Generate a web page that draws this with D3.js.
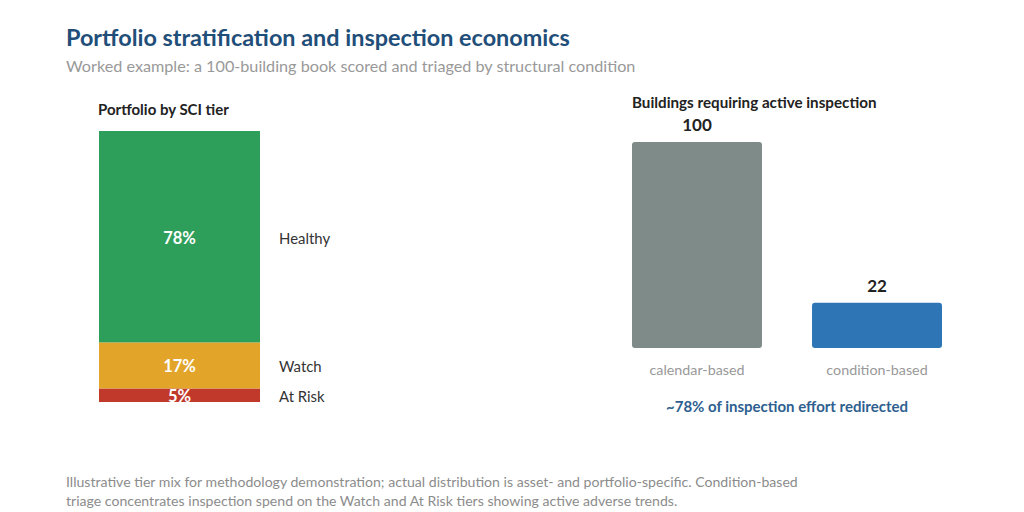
<!DOCTYPE html>
<html>
<head>
<meta charset="utf-8">
<script src="https://cdn.jsdelivr.net/npm/d3@7"></script>
<style>
  body { margin: 0; background: #fff; }
  svg { font-family: Lato, "Open Sans", sans-serif; }
</style>
</head>
<body>
<div id="container"></div>
<script>
//Data: tier mix (bottom to top) and inspection counts
var tiers = ["At Risk", "Watch", "Healthy"],
    tierShares = [5, 17, 78],
    tierColors = ["#c0392b", "#e2a52a", "#2e9e5b"];

var approaches = ["calendar-based", "condition-based"],
    buildings = [100, 22],
    approachColors = ["#7f8b89", "#2e75b6"];

var width = 1024,
    height = 512;

var svg = d3.select("#container").append("svg")
    .attr("width", width)
    .attr("height", height);

//Titles
svg.append("text")
    .attr("x", 66).attr("y", 46)
    .attr("font-size", 23.4).attr("font-weight", 700)
    .attr("fill", "#1f4e79")
    .text("Portfolio stratification and inspection economics");

svg.append("text")
    .attr("x", 66).attr("y", 72)
    .attr("font-size", 16.2)
    .attr("fill", "#999")
    .text("Worked example: a 100-building book scored and triaged by structural condition");

//Left panel: stacked tier bar
var yLeft = d3.scaleLinear().domain([0, 100]).range([402, 131]);
var barX = 99, barW = 161;

svg.append("text")
    .attr("x", 98).attr("y", 115)
    .attr("font-size", 15).attr("font-weight", 700)
    .attr("fill", "#222")
    .text("Portfolio by SCI tier");

var cum = 0;
var segs = tiers.map(function (t, i) {
    var s = { tier: t, value: tierShares[i], color: tierColors[i], y0: cum, y1: cum + tierShares[i] };
    cum += tierShares[i];
    return s;
});

var seg = svg.append("g").selectAll("g")
    .data(segs)
    .enter().append("g");

seg.append("rect")
    .attr("x", barX)
    .attr("width", barW)
    .attr("y", function (d) { return yLeft(d.y1); })
    .attr("height", function (d) { return yLeft(d.y0) - yLeft(d.y1); })
    .attr("fill", function (d) { return d.color; });

seg.append("text")
    .attr("x", barX + barW / 2)
    .attr("y", function (d) { return (yLeft(d.y0) + yLeft(d.y1)) / 2 + 1; })
    .attr("dy", "0.36em")
    .attr("text-anchor", "middle")
    .attr("font-size", 16.5).attr("font-weight", 700)
    .attr("fill", "#fff")
    .text(function (d) { return d.value + "%"; });

seg.append("text")
    .attr("x", 279)
    .attr("y", function (d) { return (yLeft(d.y0) + yLeft(d.y1)) / 2 + 1.5; })
    .attr("dy", "0.36em")
    .attr("font-size", 14.9)
    .attr("fill", "#333")
    .text(function (d) { return d.tier; });

//Right panel: inspection counts
var xRight = d3.scaleBand().domain(approaches).range([632, 942]).paddingInner(0.278).paddingOuter(0);
var yRight = d3.scaleLinear().domain([0, 100]).range([348, 142]);

svg.append("text")
    .attr("x", 632).attr("y", 108)
    .attr("font-size", 15.2).attr("font-weight", 700)
    .attr("fill", "#222")
    .text("Buildings requiring active inspection");

var bars = svg.append("g").selectAll("g")
    .data(approaches.map(function (a, i) { return { name: a, value: buildings[i], color: approachColors[i] }; }))
    .enter().append("g");

bars.append("rect")
    .attr("x", function (d) { return xRight(d.name); })
    .attr("width", xRight.bandwidth())
    .attr("y", function (d) { return yRight(d.value); })
    .attr("height", function (d) { return yRight(0) - yRight(d.value); })
    .attr("rx", 3).attr("ry", 3)
    .attr("fill", function (d) { return d.color; });

bars.append("text")
    .attr("x", function (d) { return xRight(d.name) + xRight.bandwidth() / 2; })
    .attr("y", function (d) { return yRight(d.value) - 11; })
    .attr("text-anchor", "middle")
    .attr("font-size", 17).attr("font-weight", 700)
    .attr("fill", "#222")
    .text(function (d) { return d.value; });

bars.append("text")
    .attr("x", function (d) { return xRight(d.name) + xRight.bandwidth() / 2; })
    .attr("y", 375)
    .attr("text-anchor", "middle")
    .attr("font-size", 14.3)
    .attr("fill", "#999")
    .text(function (d) { return d.name; });

svg.append("text")
    .attr("x", 787).attr("y", 412)
    .attr("text-anchor", "middle")
    .attr("font-size", 15).attr("font-weight", 700)
    .attr("fill", "#2e5f8f")
    .text("~" + (buildings[0] - buildings[1]) + "% of inspection effort redirected");

//Footnote
var notes = [
    "Illustrative tier mix for methodology demonstration; actual distribution is asset- and portfolio-specific. Condition-based",
    "triage concentrates inspection spend on the Watch and At Risk tiers showing active adverse trends."
];
svg.append("g").selectAll("text")
    .data(notes)
    .enter().append("text")
    .attr("x", 66)
    .attr("y", function (d, i) { return 487 + i * 19; })
    .attr("font-size", 14.1)
    .attr("fill", "#8c8c8c")
    .text(function (d) { return d; });
</script>
</body>
</html>
